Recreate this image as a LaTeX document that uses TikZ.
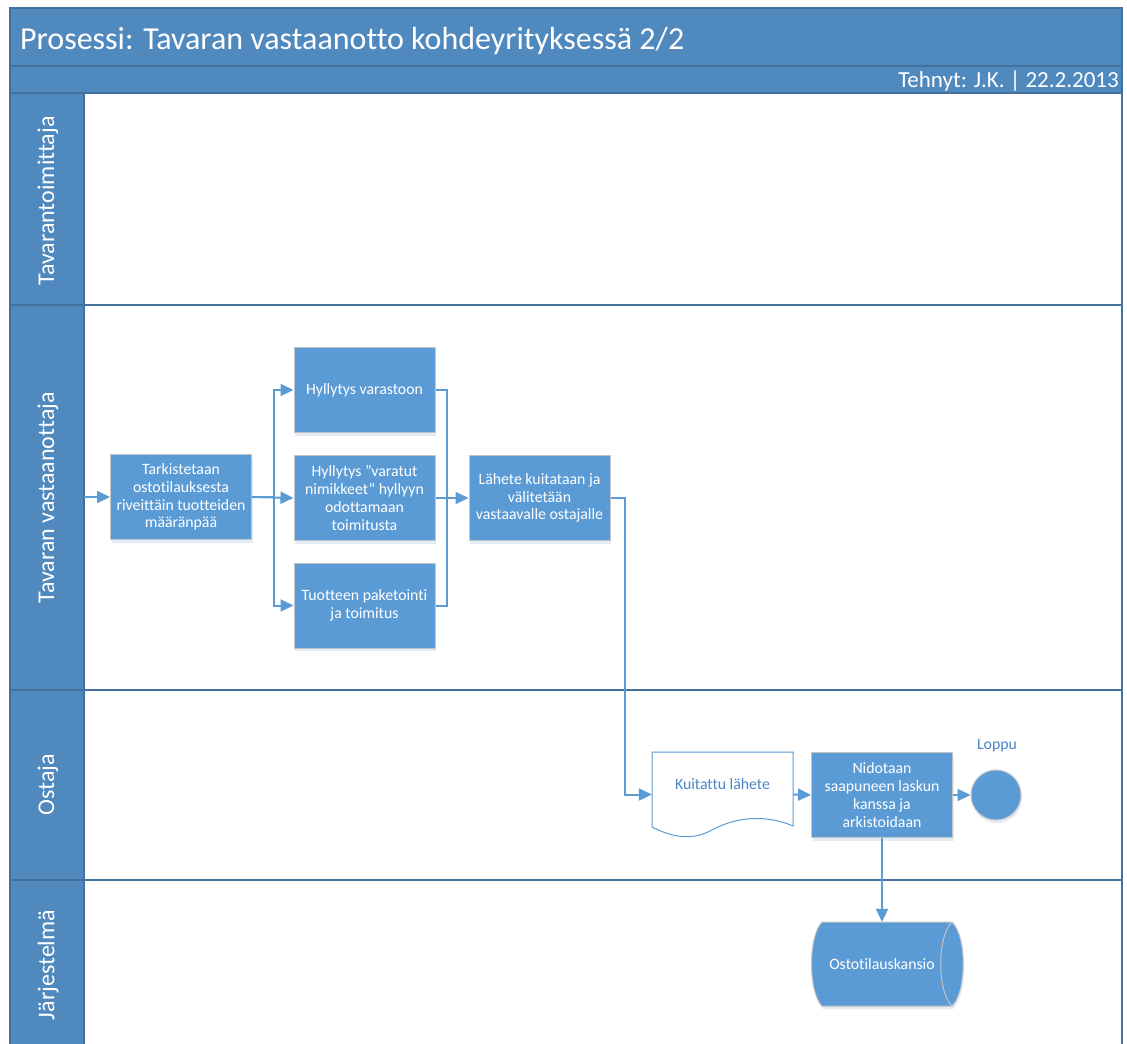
\documentclass[tikz,border=0pt]{standalone}
\usepackage{fontspec}
\setmainfont{Carlito}[Ligatures=NoCommon]
\usetikzlibrary{arrows.meta,shadows}
\definecolor{hdrblue}{HTML}{5089BE}
\definecolor{hdrline}{HTML}{41719C}
\definecolor{boxblue}{HTML}{5B9BD5}
\definecolor{boxedge}{HTML}{C4C4C4}
\definecolor{linkblue}{HTML}{5B9BD5}
\definecolor{labelblue}{HTML}{4A86C8}
\begin{document}
\begin{tikzpicture}[x=1pt,y=-1pt,
  lanehead/.style={fill=hdrblue,draw=hdrline,line width=1.2pt},
  lanebody/.style={fill=white,draw=hdrline,line width=1.2pt},
  lanelabel/.style={rotate=90,text=white,font=\fontsize{24}{28}\selectfont},
  softshadow/.style={drop shadow={shadow xshift=1pt,shadow yshift=-3pt,opacity=.18,fill=boxblue}},
  proc/.style={rectangle,fill=boxblue,draw=boxedge,line width=1pt,
    minimum width=141pt,minimum height=85pt,inner sep=2pt,align=center,
    text=white,font=\fontsize{15.8}{17.8}\selectfont,softshadow},
  link/.style={draw=linkblue,line width=2pt},
  arr/.style={link,-{Triangle[length=13pt,width=12pt]}},
  bluetext/.style={text=labelblue,font=\fontsize{15.8}{17.8}\selectfont},
]
\useasboundingbox (0,0) rectangle (1127,1044);

% header bands
\draw[lanehead] (10,8) rectangle (1122,66);
\draw[lanehead] (10,66) rectangle (1122,93);
\node[anchor=base west,text=white,font=\fontsize{32}{38}\selectfont,inner sep=0pt] (title) at (20,49)
  {Prosessi: Tavaran vastaanotto kohdeyrityksessä 2/2};
\node[anchor=base east,text=white,font=\fontsize{23}{27}\selectfont,inner sep=0pt] (made) at (1119,87)
  {Tehnyt: J.K. | 22.2.2013};

% swimlanes
\draw[lanebody] (84,93) rectangle (1122,305);
\draw[lanebody] (84,305) rectangle (1122,690);
\draw[lanebody] (84,690) rectangle (1122,880);
\draw[lanebody] (84,880) rectangle (1122,1070);
\draw[lanehead] (10,93) rectangle (84,305);
\draw[lanehead] (10,305) rectangle (84,690);
\draw[lanehead] (10,690) rectangle (84,880);
\draw[lanehead] (10,880) rectangle (84,1070);
\node[lanelabel] (l1) at (48,201) {Tavarantoimittaja};
\node[lanelabel] (l2) at (48,498) {Tavaran vastaanottaja};
\node[lanelabel] (l3) at (48,785) {Ostaja};
\node[lanelabel] (l4) at (48,965) {Järjestelmä};

% process steps
\node[proc] (tark) at (181,497) {Tarkistetaan\\ostotilauksesta\\riveittäin tuotteiden\\määränpää};
\node[proc] (hyl1) at (364.5,390) {Hyllytys varastoon};
\node[proc] (hyl2) at (364.5,498) {Hyllytys ”varatut\\nimikkeet” hyllyyn\\odottamaan\\toimitusta};
\node[proc] (pak) at (364.5,605.5) {Tuotteen paketointi\\ja toimitus};
\node[proc] (lah) at (539.5,498) {Lähete kuitataan ja\\välitetään\\vastaavalle ostajalle};

% document shape
\fill[white] (652,752) -- (793,752) -- (793,826)
  .. controls (760,812) and (730,820) .. (712,830)
  .. controls (690,842) and (670,836) .. (652,827) -- cycle;
\draw[draw=linkblue,line width=1pt] (652,752) -- (793,752) -- (793,826)
  .. controls (760,812) and (730,820) .. (712,830)
  .. controls (690,842) and (670,836) .. (652,827) -- cycle;
\node[minimum width=141pt,minimum height=85pt,inner sep=0pt,
  label={[bluetext,yshift=10pt]center:Kuitattu lähete}] (doc) at (722.5,794.5) {};

\node[proc] (nid) at (882,795) {Nidotaan\\saapuneen laskun\\kanssa ja\\arkistoidaan};
\node[circle,fill=boxblue,draw=boxedge,line width=1pt,minimum size=50pt,inner sep=0pt,softshadow] (end) at (996,795) {};
\node[bluetext] (loppu) at (997,746) {Loppu};

% stored data shape
\path[fill=boxblue,draw=boxedge,line width=1pt,softshadow]
  (822,922) -- (952,922)
  .. controls (967,936) and (967,992) .. (952,1006)
  -- (822,1006)
  .. controls (808,992) and (808,936) .. (822,922) -- cycle;
\draw[draw=boxedge,line width=1pt] (952,922) .. controls (937,936) and (937,992) .. (952,1006);
\node[minimum width=140pt,minimum height=84pt,inner sep=0pt,text=white,
  font=\fontsize{15.8}{17.8}\selectfont] (db) at (882,964) {Ostotilauskansio};

% connectors
\coordinate (start) at (84,497);
\draw[arr] (start) -- (tark.west);
\draw[arr] (tark.east) -- (hyl2.west);
\draw[arr] (tark.east) -- ++(22,0) |- (hyl1.west);
\draw[arr] (tark.east) -- ++(22,0) |- (pak.west);
\draw[link] (hyl1.east) -- ++(11,0) |- (pak.east);
\draw[arr] (hyl2.east) -- (lah.west);
\draw[arr] (lah.east) -- ++(14,0) |- (doc.west);
\draw[arr] (doc.east) -- (nid.west);
\draw[arr] (nid.east) -- (end.west);
\draw[arr] (nid.south) -- (db.north);
\end{tikzpicture}
\end{document}
